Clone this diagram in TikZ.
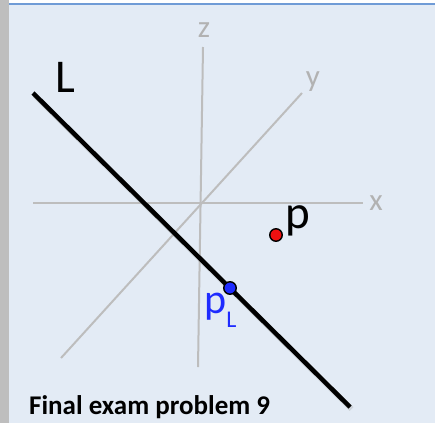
\documentclass[tikz,border=0pt]{standalone}
\usepackage{fontspec}
\setmainfont{Carlito}
\definecolor{bgblue}{HTML}{E3EBF5}
\definecolor{stripgray}{HTML}{BEBEBE}
\definecolor{topline}{HTML}{6F9BD6}
\definecolor{axisgray}{HTML}{BDBDBD}
\definecolor{labelgray}{HTML}{B2B2B2}
\definecolor{ptred}{HTML}{F01010}
\definecolor{ptblue}{HTML}{1E2BFF}
\tikzset{
  axis/.style={draw=axisgray, line width=2pt},
  axislabel/.style={text=labelgray, font=\fontsize{31}{34}\selectfont, inner sep=0pt},
  bigline/.style={draw=black, line width=4.5pt},
  lineshadow/.style={draw=black!35, opacity=0.35, line width=5.5pt},
  dotstyle/.style={circle, draw=black, line width=1.4pt, minimum size=12.5pt, inner sep=0pt},
  biglabel/.style={font=\fontsize{47}{52}\selectfont, inner sep=0pt, anchor=base west},
}
\begin{document}
\begin{tikzpicture}[x=1pt,y=-1pt]
\useasboundingbox (0,0) rectangle (435,423);
% background
\fill[white] (0,0) rectangle (435,423);
\fill[bgblue] (9,5) rectangle (435,423);
\fill[stripgray] (0,0) rectangle (9,423);
\fill[topline] (9,3.3) rectangle (435,5.3);
% axes
\coordinate (ztop) at (203,47);
\coordinate (zbot) at (198,367);
\coordinate (xl) at (33,203);
\coordinate (xr) at (363,203);
\coordinate (ytop) at (302,93);
\coordinate (ybot) at (61,358);
\draw[axis] (xl) -- (xr);
\draw[axis] (ztop) -- (zbot);
\draw[axis] (ybot) -- (ytop);
\node[axislabel] (zlab) at (204,30) {z};
\node[axislabel] (xlab) at (376,203) {x};
\node[axislabel] (ylab) at (313,82) {y};
% line L
\coordinate (La) at (33,93);
\coordinate (Lb) at (350,407);
\draw[lineshadow] ([shift={(1.5,2)}]La) -- ([shift={(1.5,2)}]Lb);
\draw[bigline] (La) -- (Lb);
\node[biglabel] (Llab) at (55,92) {L};
% points
\node[dotstyle, fill=ptred] (p) at (276,235) {};
\node[biglabel] (plab) at (285,228) {p};
\node[dotstyle, fill=ptblue] (pL) at (230,288) {};
\node[biglabel, text=ptblue, font=\fontsize{42}{46}\selectfont] (pLlab) at (204,313) {p\raisebox{-14pt}{\fontsize{24}{26}\selectfont L}};
% title
\node[font=\bfseries\fontsize{27}{32}\selectfont, inner sep=0pt, anchor=base west] (title) at (29,414) {Final exam problem 9};
\end{tikzpicture}
\end{document}
